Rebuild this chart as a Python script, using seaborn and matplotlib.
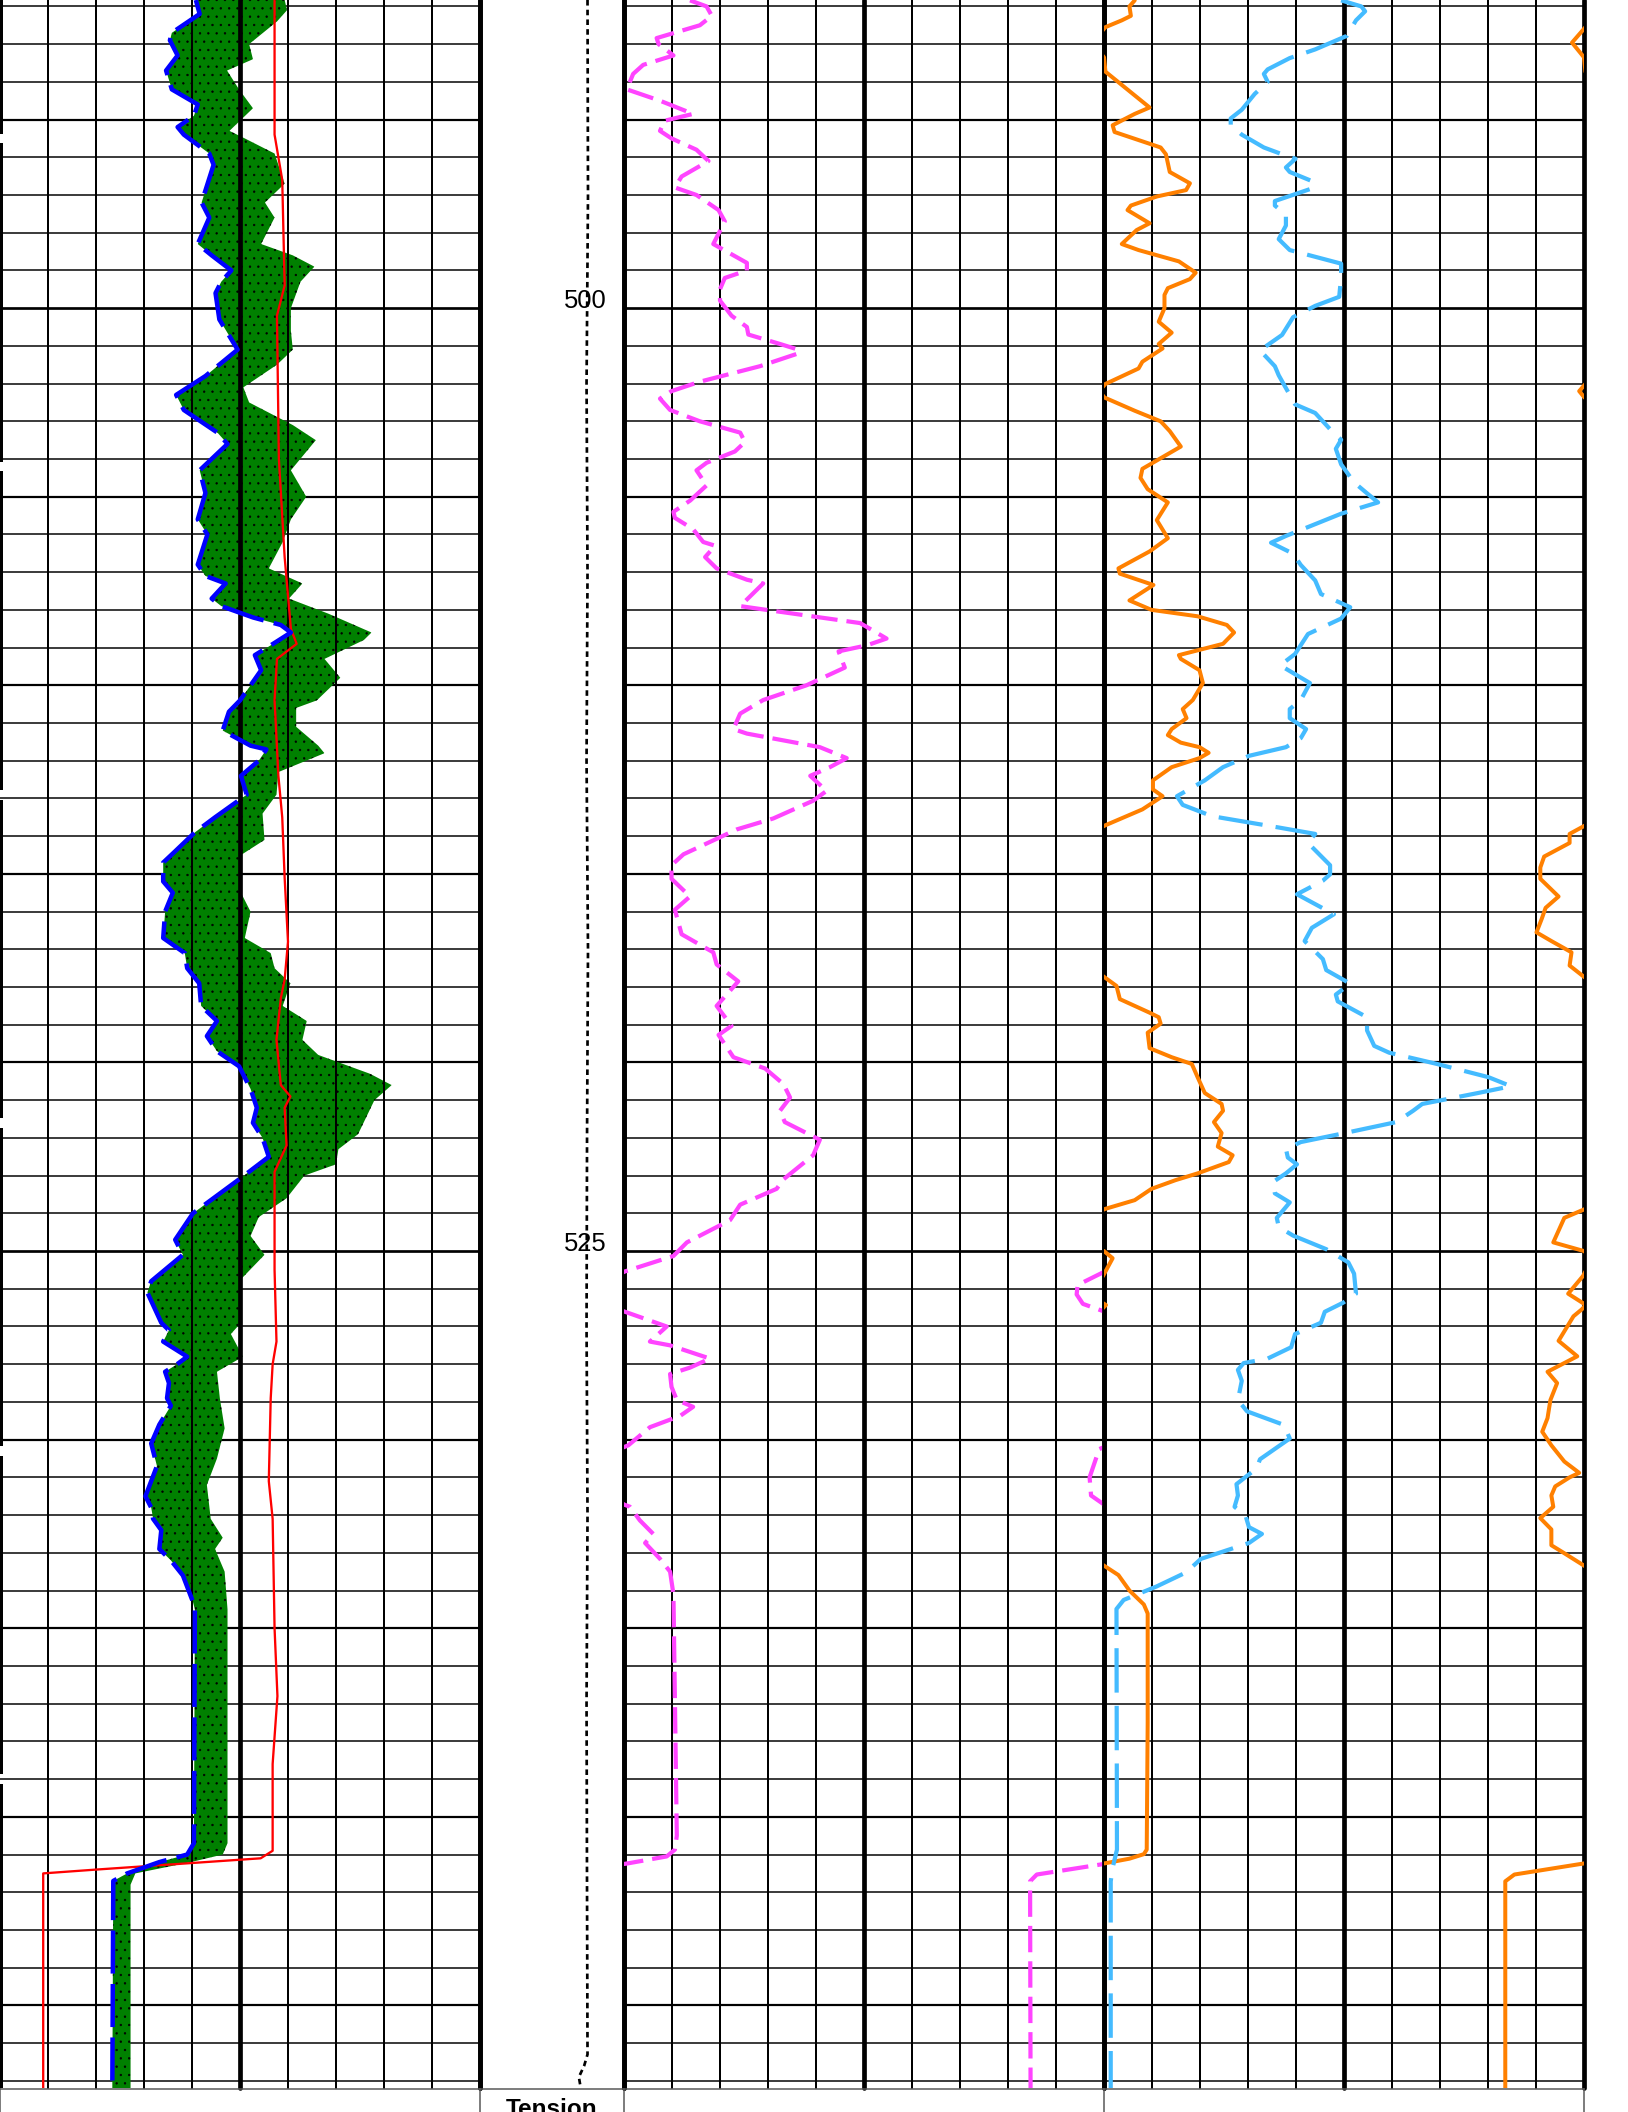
import numpy as np
import matplotlib
matplotlib.use("Agg")
import matplotlib.pyplot as plt
import seaborn as sns

# depth window of the log section
top_depth, bottom_depth = 491.83, 547.19

# track 1: blue dashed curve (left edge of the green fill)
blue_depth = [491.83, 492.2, 492.7, 492.9, 493.3, 493.7, 494.2, 494.6, 494.9, 495.2, 495.4, 495.9, 496.2,
              497.2, 497.6, 498.3, 498.6, 499.0, 499.3, 499.6, 500.3, 501.1, 501.8, 502.3, 502.7, 503.3,
              503.6, 504.3, 504.9, 505.6, 506.0, 506.8, 507.1, 507.3, 507.7, 507.9, 508.2, 508.4, 508.6,
              508.9, 509.2, 509.6, 510.4, 510.7, 511.2, 511.6, 511.7, 512.0, 512.4, 512.9, 513.5, 513.9,
              514.4, 514.7, 515.2, 515.5, 516.0, 516.7, 517.1, 517.5, 517.9, 518.5, 518.9, 519.3, 519.7,
              520.1, 520.7, 521.2, 521.6, 522.0, 522.5, 523.1, 524.0, 524.7, 525.1, 525.8, 526.1, 526.9,
              527.1, 527.4, 527.8, 528.0, 528.2, 528.5, 528.9, 529.1, 529.6, 530.1, 530.7, 531.5, 531.8,
              532.1, 532.4, 532.9, 533.2, 533.6, 534.3, 534.5, 540.7, 541.0, 541.2, 541.5, 541.7, 547.2]
blue_vals = [4.08, 4.16, 3.58, 3.54, 3.7, 3.46, 3.58, 4.12, 4.04, 3.7, 3.83, 4.36, 4.45,
             4.2, 4.36, 4.12, 4.41, 4.82, 4.61, 4.49, 4.57, 4.95, 4.28, 3.67, 3.83, 4.53,
             4.74, 4.16, 4.28, 4.12, 4.32, 4.12, 4.28, 4.7, 4.41, 4.61, 5.27, 5.85, 6.06,
             5.69, 5.31, 5.44, 5.0, 4.77, 4.64, 5.22, 5.55, 5.39, 5.02, 5.14, 4.48, 4.06,
             3.65, 3.4, 3.4, 3.6, 3.44, 3.4, 3.85, 3.9, 4.15, 4.19, 4.52, 4.31, 4.52,
             4.98, 5.22, 5.35, 5.27, 5.47, 5.6, 4.98, 4.02, 3.65, 3.81, 3.15, 3.07, 3.36,
             3.52, 3.4, 3.9, 3.69, 3.44, 3.52, 3.48, 3.56, 3.32, 3.15, 3.27, 3.03, 3.15,
             3.19, 3.36, 3.32, 3.56, 3.81, 4.02, 4.06, 4.04, 3.9, 3.32, 2.65, 2.36, 2.34]

# track 1: right edge of the green fill
edge_depth = [491.83, 492.1, 492.4, 493.0, 493.4, 493.7, 494.2, 494.7, 495.3, 495.5, 495.9, 496.7, 497.2,
              497.6, 498.3, 498.6, 498.9, 499.3, 500.0, 500.6, 501.1, 501.5, 502.1, 502.5, 503.1, 503.5,
              504.3, 505.0, 505.6, 506.2, 506.9, 507.3, 507.7, 508.1, 508.6, 508.8, 509.3, 509.8, 510.4,
              510.6, 511.1, 511.6, 511.8, 512.3, 512.9, 513.4, 514.1, 514.5, 515.5, 516.0, 516.7, 517.1,
              517.5, 517.9, 518.5, 518.9, 519.4, 519.8, 520.3, 520.6, 521.0, 521.9, 522.3, 522.7, 523.0,
              523.6, 524.1, 524.6, 525.1, 525.8, 526.9, 527.2, 527.8, 528.2, 528.9, 529.7, 530.5, 531.2,
              532.1, 532.6, 532.9, 533.5, 534.5, 540.7, 541.0, 541.2, 541.5, 541.8, 547.2]
edge_vals = [5.93, 5.98, 5.77, 5.19, 5.27, 4.73, 4.98, 5.27, 4.78, 5.1, 5.72, 5.93, 5.52,
             5.72, 5.44, 6.1, 6.55, 6.26, 6.06, 6.06, 6.1, 5.77, 5.07, 5.19, 6.1, 6.58,
             6.06, 6.38, 6.06, 5.89, 5.6, 6.3, 6.02, 6.84, 7.74, 7.58, 6.76, 7.09, 6.6,
             6.17, 6.17, 6.63, 6.76, 5.8, 5.76, 5.47, 5.51, 5.02, 5.02, 5.22, 5.1, 5.64,
             5.72, 6.05, 5.89, 6.39, 6.3, 6.63, 7.71, 8.16, 7.8, 7.46, 7.05, 7.0, 6.34,
             5.97, 5.39, 5.22, 5.51, 4.98, 5.02, 4.81, 5.06, 4.52, 4.58, 4.68, 4.52, 4.31,
             4.39, 4.64, 4.48, 4.68, 4.74, 4.74, 4.64, 3.98, 2.82, 2.72, 2.72]

# track 1: red solid curve
red_depth = [491.83, 495.4, 496.6, 499.4, 500.2, 504.0, 506.6, 508.5, 508.9, 509.3, 510.4, 512.4, 513.5,
             515.1, 516.8, 517.8, 518.3, 519.4, 520.6, 520.9, 521.2, 522.2, 522.9, 525.5, 527.4, 528.0,
             528.9, 531.1, 532.1, 535.0, 536.8, 538.6, 540.9, 541.1, 541.4, 541.5, 547.2]
red_vals = [5.72, 5.72, 5.88, 5.93, 5.77, 5.81, 5.93, 6.06, 6.18, 5.77, 5.72, 5.80, 5.88,
            5.93, 6.0, 5.93, 5.85, 5.76, 5.85, 6.05, 5.93, 5.97, 5.72, 5.72, 5.76, 5.68,
            5.64, 5.6, 5.68, 5.72, 5.78, 5.68, 5.68, 5.43, 1.99, 0.9, 0.9]

# depth track: tension
tension_depth = [491.83, 497.0, 502.0, 507.0, 512.0, 517.0, 522.0, 527.0, 532.0, 537.0, 542.0,
                 546.3, 546.6, 546.9, 547.2]
tension_vals = [2.24, 2.25, 2.22, 2.24, 2.22, 2.25, 2.23, 2.22, 2.24, 2.22, 2.23,
                2.24, 2.17, 2.06, 2.1]
depth_labels = [500, 525]

# track 2: magenta dashed (values below 0 wrap to the right side)
mag_depth = [491.84, 492.0, 492.25, 492.5, 492.84, 493.0, 493.3, 493.55, 493.79, 494.2, 494.5, 494.85,
             495.03, 495.3, 495.5, 495.8, 496.1, 496.51, 496.8, 497.0, 497.4, 497.7, 498.3, 498.8,
             499.0, 499.2, 499.5, 499.8, 500.2, 500.5, 500.7, 500.95, 501.1, 501.2, 501.54, 501.95,
             502.2, 502.4, 502.7, 503.0, 503.3, 503.55, 503.8, 504.1, 504.3, 504.7, 505.1, 505.4,
             505.56, 505.86, 506.2, 506.3, 506.6, 506.9, 507.2, 507.3, 507.9, 508.0, 508.35, 508.76,
             508.94, 509.1, 509.53, 510.0, 510.39, 510.75, 511.16, 511.28, 511.64, 511.93, 512.17,
             512.4, 512.8, 513.06, 513.53, 513.82, 514.48, 514.77, 515.13, 515.6, 515.95, 516.6,
             517.08, 517.4, 517.85, 518.5, 519.03, 519.27, 519.86, 520.16, 520.57, 520.93, 521.28,
             521.58, 522.05, 522.46, 523.1, 523.35, 523.77, 524.18, 524.77, 525.13, 525.54, 525.9,
             526.15, 526.4, 526.6, 527.0, 527.4, 527.5, 527.85, 528.09, 528.26, 528.6, 528.95,
             529.13, 529.37, 529.67, 530.15, 530.25, 531.0, 531.48, 531.72, 531.78, 532.14, 532.5,
             532.74, 533.16, 533.5, 534.1, 540.5, 540.87, 541.05, 541.23, 541.53, 541.71, 547.19]
mag_vals = [1.375, 1.72, 1.83, 1.58, 0.68, 0.72, 1.03, 0.40, 0.19, 0.06, 0.75, 1.44,
            0.85, 0.75, 0.99, 1.51, 1.76, 1.2, 1.06, 1.51, 1.97, 2.1, 1.86, 2.56,
            2.56, 2.1, 2.0, 2.0, 2.24, 2.56, 2.59, 3.25, 3.63, 3.63, 2.83, 1.58,
            0.99, 0.75, 0.96, 1.58, 2.42, 2.52, 2.31, 1.72, 1.51, 1.72, 1.38, 1.03,
            1.06, 1.44, 1.65, 1.9, 1.69, 1.93, 2.56, 2.9, 2.42, 2.97, 4.92, 5.47,
            5.06, 4.47, 4.6, 3.8, 2.9, 2.42, 2.28, 2.56, 4.08, 4.64, 4.29,
            3.88, 4.22, 3.94, 3.11, 2.35, 1.24, 0.99, 0.99, 1.375, 1.06, 1.2,
            1.86, 1.93, 2.38, 1.93, 2.24, 1.97, 2.28, 2.94, 3.32, 3.46, 3.25,
            3.35, 4.08, 3.94, 3.32, 3.18, 2.42, 2.21, 1.31, 1.03, 0.02, -0.55,
            -0.57, -0.44, 0.0, 0.89, 0.54, 0.96, 1.79, 1.375, 0.96, 0.99, 1.1,
            1.44, 1.17, 0.54, 0.09, -0.1, -0.3, -0.27, 0.0, 0.125, 0.33, 0.61,
            0.44, 0.75, 0.96, 1.03, 1.1, 1.06, 0.89, 0.1, -1.4, -1.54, -1.53]

# track 3: orange solid (values below 0 wrap to the right side)
org_depth = [491.84, 492.0, 492.25, 492.37, 492.55, 492.96, 493.35, 493.73, 494.68, 494.85, 495.15, 495.33,
             495.74, 495.92, 496.39, 496.69, 496.87, 497.04, 497.28, 497.4, 497.75, 497.93, 498.3, 498.46,
             498.76, 499.06, 499.23, 499.47, 499.65, 500.0, 500.36, 500.65, 500.95, 501.07, 501.42, 501.6,
             502.01, 502.2, 502.37, 502.72, 503.0, 503.26, 503.67, 504.26, 504.5, 504.8, 505.15, 505.62,
             506.1, 506.45, 506.9, 507.04, 507.34, 507.75, 508.0, 508.17, 508.4, 508.6, 508.9, 509.2,
             509.3, 509.6, 509.94, 510.39, 510.63, 510.87, 511.16, 511.32, 511.52, 511.64, 511.79, 511.93,
             512.17, 512.52, 512.76, 512.94, 513.29, 513.71, 513.94, 514.18, 514.54, 514.83, 515.13, 515.6,
             515.9, 516.19, 516.55, 516.78, 517.08, 517.43, 517.73, 517.97, 518.32, 518.68, 518.8, 518.97,
             519.21, 519.62, 519.86, 520.04, 520.39, 520.81, 521.1, 521.28, 521.58, 521.87, 522.23, 522.46,
             522.64, 522.94, 523.12, 523.35, 523.65, 523.88, 524.12, 524.77, 525.0, 525.19, 525.54, 525.66,
             526.13, 526.43, 526.55, 526.73, 527.38, 527.79, 528.2, 528.5, 528.95, 529.43, 529.79, 530.15,
             530.58, 530.88, 531.0, 531.24, 531.48, 531.78, 532.08, 532.38, 532.8, 532.98, 533.34, 533.59,
             534.0, 534.37, 534.61, 537.5, 540.87, 540.99, 541.11, 541.23, 541.53, 541.71, 542.19, 547.19]
org_vals = [0.64, 0.53, 0.56, 0.37, 0.03, -0.25, 0.0, 0.03, 0.95, 0.64, 0.18, 0.22,
            1.18, 1.29, 1.37, 1.79, 1.71, 1.1, 0.56, 0.49, 0.95, 0.68, 0.37, 0.72,
            1.56, 1.91, 1.79, 1.33, 1.26, 1.26, 1.14, 1.41, 1.14, 1.22, 0.8, 0.72,
            0.03, -0.1, 0.01, 0.64, 1.18, 1.37, 1.6, 0.8, 0.76, 0.91, 1.33, 1.1,
            1.33, 0.95, 0.3, 0.33, 1.03, 0.53, 0.99, 1.95, 2.56, 2.71, 2.48, 1.56,
            1.6, 1.99, 2.06, 1.85, 1.64, 1.72, 1.41, 1.33, 1.6, 1.99, 2.18, 1.99,
            1.41, 1.02, 1.02, 1.22, 0.8, 0.03, -0.3, -0.3, -0.83, -0.91, -0.91, -0.53,
            -0.8, -0.88, -0.99, -0.68, -0.26, -0.3, 0.0, 0.26, 0.33, 0.95, 1.14, 1.18,
            0.91, 0.95, 1.41, 1.83, 1.95, 2.1, 2.45, 2.48, 2.29, 2.45, 2.37, 2.68,
            2.6, 1.95, 1.49, 0.99, 0.64, 0.03, -0.41, -0.64, 0.0, 0.18, 0.03, -0.02,
            -0.33, 0.04, -0.05, -0.22, -0.53, -0.14, -0.76, -0.56, -0.7, -0.76, -0.87, -0.68,
            -0.41, -0.1, -0.3, -0.6, -0.68, -0.64, -0.91, -0.68, -0.68, -0.45, 0.0, 0.3,
            0.53, 0.83, 0.91, 0.91, 0.89, 0.83, 0.53, 0.03, -1.45, -1.64, -1.64, -1.64]

# track 3: light blue dashed
cyan_depth = [491.84, 492.0, 492.13, 492.37, 492.78, 493.14, 493.37, 493.67, 493.79, 494.0, 494.32, 494.74,
              494.97, 495.15, 495.4, 495.74, 495.92, 496.04, 496.27, 496.39, 496.63, 496.81, 497.16, 497.28,
              497.52, 497.81, 498.17, 498.46, 498.82, 499.17, 499.7, 499.94, 500.24, 500.71, 500.95, 501.12,
              501.54, 501.78, 502.55, 502.78, 503.32, 503.49, 503.73, 504.14, 504.62, 504.91, 505.15, 505.45,
              506.04, 506.22, 506.51, 506.81, 507.22, 507.58, 507.93, 508.23, 508.64, 509.17, 509.47, 509.94,
              510.39, 510.63, 510.87, 511.16, 511.4, 511.64, 511.87, 512.17, 512.52, 512.94, 513.17, 513.47,
              513.77, 513.94, 514.18, 514.77, 515.01, 515.18, 515.54, 516.07, 516.43, 516.78, 517.26, 517.55,
              517.91, 518.2, 518.38, 518.8, 519.15, 519.56, 519.74, 520.04, 520.39, 520.63, 520.81, 521.1,
              521.28, 521.58, 521.87, 522.11, 522.29, 522.52, 522.7, 522.94, 523.17, 523.47, 523.71, 524.12,
              524.36, 524.59, 524.95, 525.3, 525.6, 526.13, 526.37, 526.61, 526.9, 527.2, 527.55, 527.85,
              527.97, 528.15, 528.44, 528.95, 529.25, 529.61, 529.97, 530.21, 530.52, 530.76, 531.18, 531.48,
              531.78, 532.02, 532.32, 532.5, 532.74, 533.16, 533.52, 533.89, 534.25, 534.49, 540.87, 541.35,
              541.71, 547.19]
cyan_vals = [4.94, 5.36, 5.44, 5.25, 5.06, 4.4, 3.87, 3.41, 3.33, 3.41, 3.14, 2.87,
             2.64, 2.64, 2.87, 3.33, 3.71, 3.99, 3.79, 3.87, 4.33, 4.37, 3.56, 3.56,
             3.79, 3.79, 3.64, 3.87, 4.94, 4.94, 4.9, 4.4, 3.94, 3.71, 3.44, 3.25,
             3.56, 3.64, 3.98, 4.4, 4.79, 4.94, 4.83, 4.94, 5.21, 5.48, 5.71, 4.94,
             3.79, 3.48, 3.94, 4.1, 4.4, 4.52, 5.13, 4.94, 4.25, 3.98, 3.67, 4.29,
             4.1, 3.87, 3.87, 4.21, 4.1, 3.79, 3.02, 2.48, 2.1, 1.52, 1.64, 2.25,
             3.64, 4.4, 4.25, 4.71, 4.71, 4.56, 4.02, 4.79, 4.33, 4.18, 4.56, 4.63,
             5.13, 4.83, 4.87, 5.48, 5.48, 5.63, 5.94, 6.94, 8.01, 8.48, 7.79, 6.63,
             6.44, 6.09, 5.02, 4.1, 3.79, 3.83, 4.02, 3.79, 3.52, 3.56, 3.87, 3.6,
             3.64, 3.94, 4.63, 5.09, 5.21, 5.25, 4.98, 4.6, 4.52, 3.98, 3.9, 3.41,
             2.91, 2.79, 2.87, 2.79, 2.98, 3.75, 3.87, 3.6, 3.25, 3.18, 2.76, 2.79,
             2.72, 2.95, 3.02, 3.29, 3.02, 2.02, 1.71, 1.1, 0.41, 0.26, 0.27, 0.18,
             0.14, 0.14]

W, H = 1628, 2112
GRID_BOTTOM = 2088
PT = 0.72  # points per pixel at 100 dpi

sns.set_theme(style="white")
plt.rcParams["font.family"] = ["Liberation Sans", "DejaVu Sans"]
plt.rcParams["lines.scale_dashes"] = False
plt.rcParams["hatch.linewidth"] = 0.45
plt.rcParams["hatch.color"] = "black"

fig = plt.figure(figsize=(W / 100, H / 100), dpi=100)
fig.patch.set_facecolor("white")


def track(x0, x1, xmax):
    ax = fig.add_axes([x0 / W, (H - GRID_BOTTOM) / H, (x1 - x0) / W, GRID_BOTTOM / H])
    ax.set_xlim(0, xmax)
    ax.set_ylim(bottom_depth, top_depth)
    ax.axis("off")
    return ax


def grid(ax, left_edge=True):
    for d in range(492, 548):
        lw = 2.7 if d % 25 == 0 else (2.2 if d % 5 == 0 else 1.5)
        ax.axhline(d, color="black", lw=lw * PT, zorder=1)
    for x in range(11):
        if x == 0 and not left_edge:
            continue
        lw = 4.7 if x % 5 == 0 else 2.0
        ax.axvline(x, color="black", lw=lw * PT, zorder=3, clip_on=False)


def curve(ax, vals, depth, color, lw, dash=None, wrap=False, z=5):
    style = "-" if dash is None else (0, dash)
    vals = np.asarray(vals, dtype=float)
    shifts = [0, 10] if wrap else [0]
    for s in shifts:
        sns.lineplot(x=vals + s, y=depth, ax=ax, color=color, lw=lw * PT, linestyle=style,
                     sort=False, estimator=None, orient="y", zorder=z)


ax1 = track(0, 480, 10)
axd = track(480, 624, 3)
ax2 = track(624, 1104, 10)
ax3 = track(1104, 1584, 10)

# track 1 ----------------------------------------------------------
grid(ax1, left_edge=False)
gaps = np.arange(495.5, bottom_depth, 8.7)
starts = np.concatenate([[top_depth], gaps + 0.13])
ends = np.concatenate([gaps - 0.13, [bottom_depth]])
ax1.vlines(np.zeros(len(starts)), starts, ends, color="black", lw=6 * PT, zorder=3, clip_on=False)

dd = np.linspace(top_depth, bottom_depth, 4000)
b = np.interp(dd, blue_depth, blue_vals)
e = np.interp(dd, edge_depth, edge_vals)
ax1.fill_betweenx(dd, b, e, where=e >= b, facecolor="#008000", edgecolor="black",
                  hatch="..", linewidth=0, zorder=2)
curve(ax1, red_vals, red_depth, "#ff0000", 2.3, z=4)
curve(ax1, blue_vals, blue_depth, "#0000ff", 4.5, dash=(31, 7.5), z=5)

# depth track --------------------------------------------------------
for x in (0, 3):
    axd.axvline(x, color="black", lw=4.7 * PT, zorder=3, clip_on=False)
curve(axd, tension_vals, tension_depth, "black", 2.7, dash=(4.0, 3.0), z=4)
for d in depth_labels:
    axd.text(2.19, d, str(d), ha="center", va="baseline", fontsize=18.4, color="black", zorder=6)

# track 2 ----------------------------------------------------------
grid(ax2)
curve(ax2, mag_vals, mag_depth, "#ff44ff", 4.2, dash=(19, 6.5), wrap=True)

# track 3 ----------------------------------------------------------
grid(ax3)
curve(ax3, org_vals, org_depth, "#ff8000", 4.0, wrap=True, z=5)
curve(ax3, cyan_vals, cyan_depth, "#44bbff", 4.2, dash=(32, 9.5), z=5)

# header boxes under the tracks ----------------------------------------
hx = fig.add_axes([0, 0, 1, (H - GRID_BOTTOM) / H])
hx.set_xlim(0, W)
hx.set_ylim(H, GRID_BOTTOM)
hx.axis("off")
hx.axhline(GRID_BOTTOM + 1, xmin=0, xmax=1584 / W, color="#555555", lw=1.5 * PT)
for x in (0, 480, 624, 1104, 1584):
    hx.axvline(x, color="#555555", lw=1.5 * PT)
fig.text(552 / W, -4.5 / H, "Tension", ha="center", va="baseline", fontsize=17.5,
         fontweight="bold", color="black")

fig.savefig("out.png", dpi=100, facecolor="white")
